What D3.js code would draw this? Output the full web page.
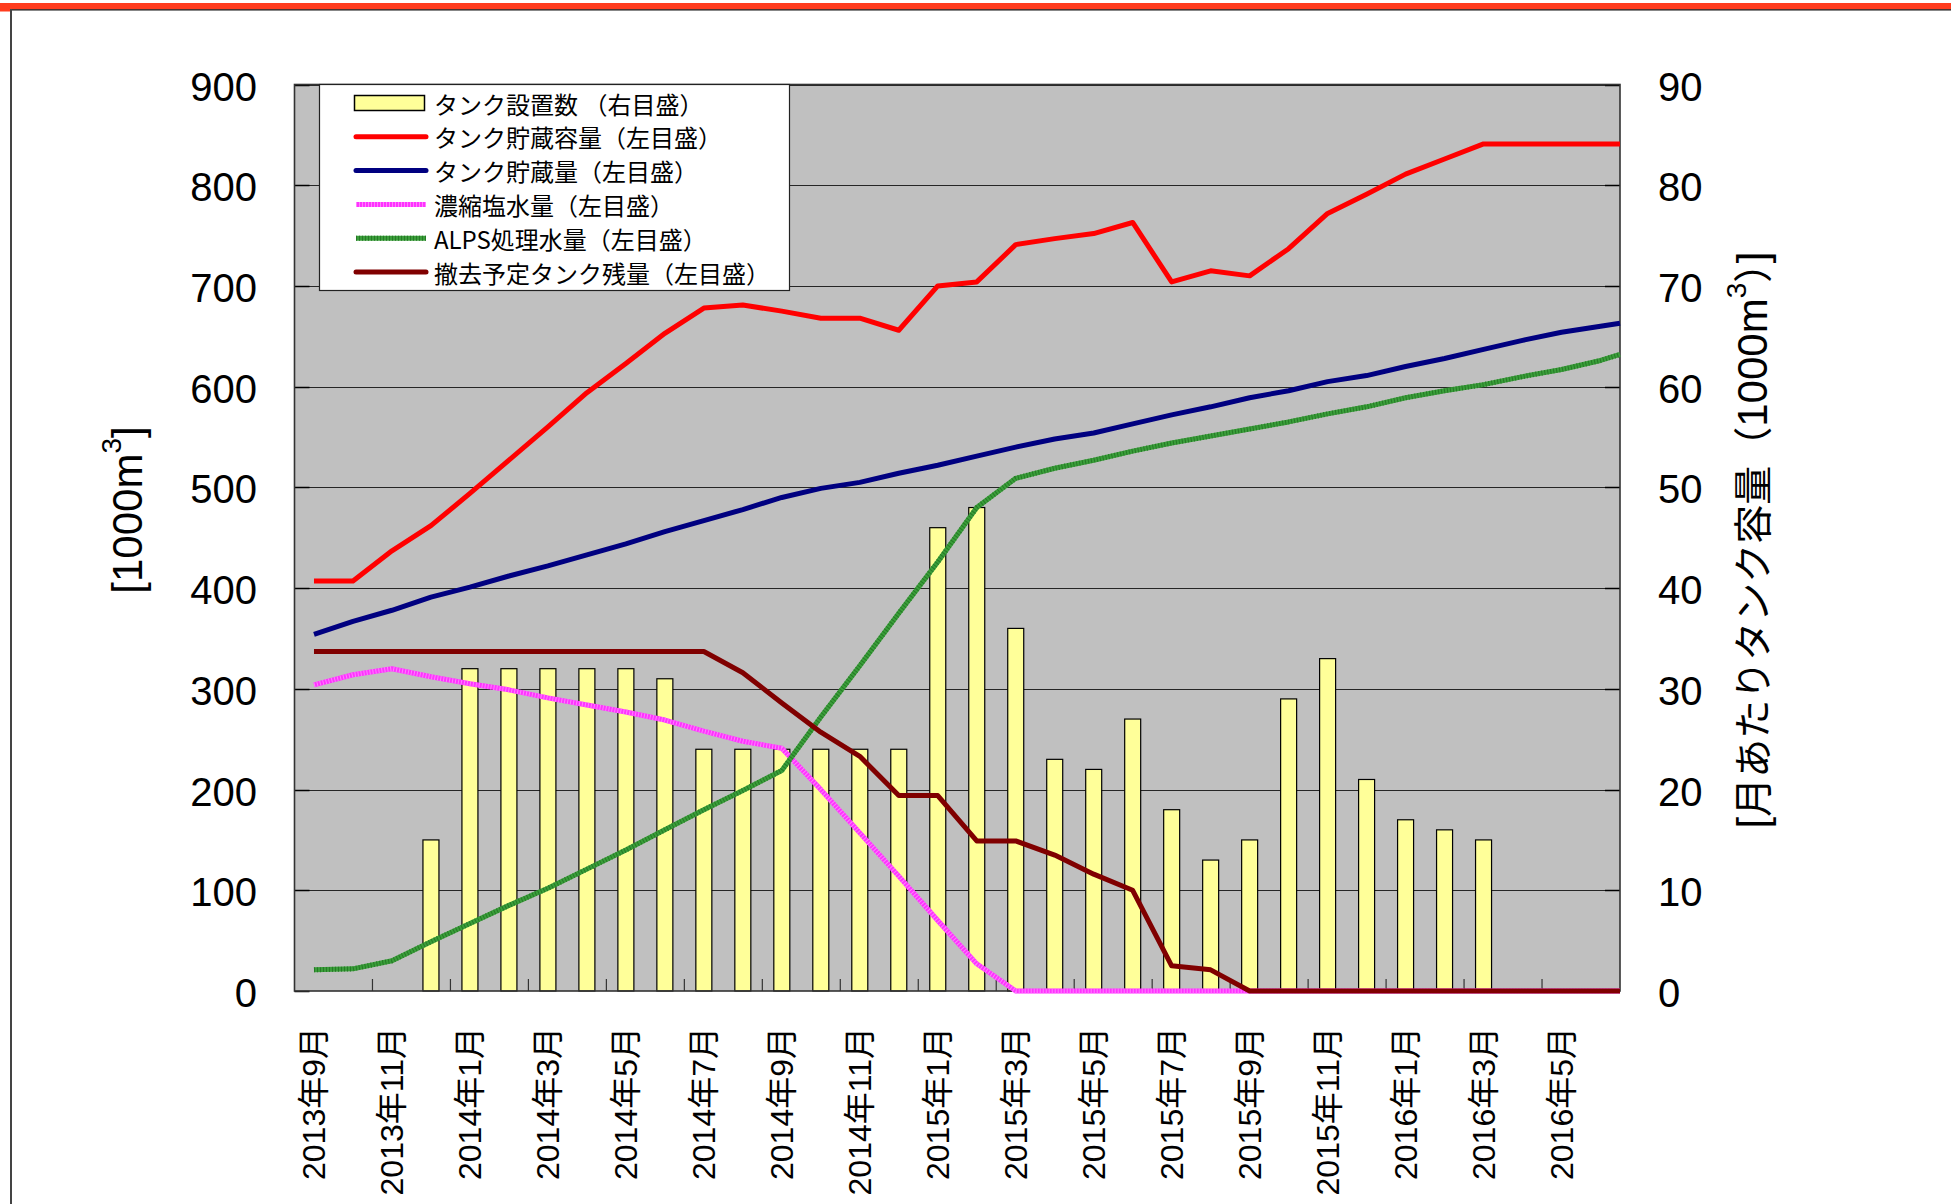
<!DOCTYPE html>
<html>
<head>
<meta charset="utf-8">
<script src="https://cdn.jsdelivr.net/npm/d3@7"></script>
<style>
  body { margin: 0; background: #ffffff; }
  svg { display: block; }
</style>
</head>
<body>
<div id="chart"></div>
<script>
// categories (one per month)
const months = [
    '2013年9月', '2013年10月', '2013年11月', '2013年12月',
    '2014年1月', '2014年2月', '2014年3月', '2014年4月', '2014年5月', '2014年6月',
    '2014年7月', '2014年8月', '2014年9月', '2014年10月', '2014年11月', '2014年12月',
    '2015年1月', '2015年2月', '2015年3月', '2015年4月', '2015年5月', '2015年6月',
    '2015年7月', '2015年8月', '2015年9月', '2015年10月', '2015年11月', '2015年12月',
    '2016年1月', '2016年2月', '2016年3月', '2016年4月', '2016年5月', '2016年6月'
];

// bars, right scale (1000 m3 per month)
const tankCount = [null, null, null, 15, 32, 32, 32, 32, 32, 31, 24, 24, 24, 24, 24, 24,
    46, 48, 36, 23, 22, 27, 18, 13, 15, 29, 33, 21, 17, 16, 15, null, null, null];

// lines, left scale (1000 m3); one value per month plus the value at the right edge
const storageCapacity = [407, 407, 437, 462, 494, 527, 560, 594, 623, 653, 678, 681, 675, 668, 668, 656,
    700, 704, 741, 747, 752, 763, 704, 715, 710, 737, 772, 791, 811, 826, 841, 841, 841, 841, 841];
const storageVolume = [354, 367, 378, 391, 401, 412, 422, 433, 444, 456, 467, 478, 490, 499, 505, 514,
    522, 531, 540, 548, 554, 563, 572, 580, 589, 596, 605, 611, 620, 628, 637, 646, 654, 660, 663];
const brineVolume = [304, 314, 320, 312, 305, 299, 291, 284, 277, 269, 258, 248, 241, 200, 157, 114,
    70, 27, 0, 0, 0, 0, 0, 0, 0, 0, 0, 0, 0, 0, 0, 0, 0, 0, 0];
const alpsVolume = [21, 22, 30, 49, 67, 85, 102, 121, 140, 160, 180, 199, 219, 272, 323, 375,
    426, 480, 509, 519, 527, 536, 544, 551, 558, 565, 573, 580, 589, 596, 602, 610, 617, 626, 632];
const removalTankVolume = [337, 337, 337, 337, 337, 337, 337, 337, 337, 337, 337, 316, 286, 257, 233, 194,
    194, 149, 149, 135, 116, 100, 25, 21, 0, 0, 0, 0, 0, 0, 0, 0, 0, 0, 0];

const leftTicks = [0, 100, 200, 300, 400, 500, 600, 700, 800, 900];
const rightTicks = [0, 10, 20, 30, 40, 50, 60, 70, 80, 90];

const legendLabels = [
    'タンク設置数 （右目盛）',
    'タンク貯蔵容量（左目盛）',
    'タンク貯蔵量（左目盛）',
    '濃縮塩水量（左目盛）',
    'ALPS処理水量（左目盛）',
    '撤去予定タンク残量（左目盛）'
];

const JP = '"Noto Sans CJK JP", sans-serif';
const SANS = '"Liberation Sans", "Noto Sans CJK JP", sans-serif';

function main() {
    const svgWidth = 1951, svgHeight = 1204;
    const plot = {left: 294.5, right: 1620, top: 84.5, bottom: 991};

    const svg = d3.select('#chart').append('svg')
        .attr('width', svgWidth)
        .attr('height', svgHeight);

    // page frame and red stripe on top
    svg.append('rect').attr('x', 0).attr('y', 3).attr('width', svgWidth).attr('height', 6.5).attr('fill', '#ff3c1e');
    svg.append('rect').attr('x', 0).attr('y', 3).attr('width', 10).attr('height', 8.5).attr('fill', '#ff3c1e');
    svg.append('line').attr('x1', 10).attr('x2', svgWidth).attr('y1', 9.8).attr('y2', 9.8)
        .attr('stroke', '#111').attr('stroke-width', 1.2);
    svg.append('line').attr('x1', 11).attr('x2', 11).attr('y1', 9).attr('y2', svgHeight)
        .attr('stroke', '#444').attr('stroke-width', 2);

    const x = d3.scaleBand().domain(months).range([plot.left, plot.right]).padding(0);
    const xc = (i) => i < months.length ? x(months[i]) + x.bandwidth() / 2 : plot.right;
    const yLeft = d3.scaleLinear().domain([0, 900]).range([plot.bottom, plot.top]);
    const yRight = d3.scaleLinear().domain([0, 90]).range([plot.bottom, plot.top]);

    // plot background and gridlines
    svg.append('rect')
        .attr('x', plot.left).attr('y', plot.top)
        .attr('width', plot.right - plot.left).attr('height', plot.bottom - plot.top)
        .attr('fill', '#c0c0c0');

    svg.append('g').selectAll('line')
        .data(leftTicks.slice(1))
        .enter().append('line')
        .attr('x1', plot.left).attr('x2', plot.right)
        .attr('y1', d => Math.round(yLeft(d)) + 0.5).attr('y2', d => Math.round(yLeft(d)) + 0.5)
        .attr('stroke', '#262626').attr('stroke-width', 1.2);

    // inside ticks on both value axes
    svg.append('g').selectAll('line')
        .data(leftTicks)
        .enter().append('line')
        .attr('x1', plot.left).attr('x2', plot.left + 15)
        .attr('y1', d => Math.round(yLeft(d)) + 0.5).attr('y2', d => Math.round(yLeft(d)) + 0.5)
        .attr('stroke', '#000').attr('stroke-width', 1.5);
    svg.append('g').selectAll('line')
        .data(rightTicks)
        .enter().append('line')
        .attr('x1', plot.right - 15).attr('x2', plot.right)
        .attr('y1', d => Math.round(yRight(d)) + 0.5).attr('y2', d => Math.round(yRight(d)) + 0.5)
        .attr('stroke', '#000').attr('stroke-width', 1.5);

    // category ticks every two months, pointing up
    svg.append('g').selectAll('line')
        .data(months.filter((d, i) => i % 2 === 0 && i > 0))
        .enter().append('line')
        .attr('x1', d => x(d)).attr('x2', d => x(d))
        .attr('y1', plot.bottom - 12).attr('y2', plot.bottom)
        .attr('stroke', '#333').attr('stroke-width', 1.2);

    // bars
    const barWidth = 16;
    svg.append('g').selectAll('rect')
        .data(months.map((m, i) => ({month: m, value: tankCount[i]})).filter(d => d.value != null))
        .enter().append('rect')
        .attr('x', d => x(d.month) + x.bandwidth() / 2 - barWidth / 2)
        .attr('y', d => yRight(d.value))
        .attr('width', barWidth)
        .attr('height', d => yRight(0) - yRight(d.value))
        .attr('fill', '#ffff99')
        .attr('stroke', '#000')
        .attr('stroke-width', 1.2);

    // plot border
    svg.append('rect')
        .attr('x', plot.left).attr('y', plot.top)
        .attr('width', plot.right - plot.left).attr('height', plot.bottom - plot.top)
        .attr('fill', 'none').attr('stroke', '#333').attr('stroke-width', 1.6);

    // lines
    const series = [
        {values: storageCapacity, color: '#ff0000'},
        {values: storageVolume, color: '#000080'},
        {values: brineVolume, color: '#ff33ff', texture: '#ff80ff'},
        {values: alpsVolume, color: '#3a9e3a', texture: '#267a26'},
        {values: removalTankVolume, color: '#800000'}
    ];

    const lineGenerator = d3.line()
        .x((d, i) => xc(i))
        .y(d => yLeft(d));

    series.forEach(s => {
        svg.append('path')
            .datum(s.values)
            .attr('d', lineGenerator)
            .attr('fill', 'none')
            .attr('stroke', s.color)
            .attr('stroke-width', 5)
            .attr('stroke-linejoin', 'round');
        if (s.texture) {
            svg.append('path')
                .datum(s.values)
                .attr('d', lineGenerator)
                .attr('fill', 'none')
                .attr('stroke', s.texture)
                .attr('stroke-width', 5)
                .attr('stroke-dasharray', '1,2');
        }
    });

    // legend
    const legend = svg.append('g');
    legend.append('rect')
        .attr('x', 319.5).attr('y', 84.5)
        .attr('width', 470).attr('height', 206)
        .attr('fill', '#ffffff').attr('stroke', '#222').attr('stroke-width', 1.2);

    const legendY = d3.scalePoint().domain(legendLabels).range([103, 272]);
    const legendSymbols = [{bar: true}].concat(series);

    legendLabels.forEach((label, i) => {
        const cy = legendY(label);
        const sym = legendSymbols[i];
        if (sym.bar) {
            legend.append('rect')
                .attr('x', 354.5).attr('y', cy - 7.5)
                .attr('width', 70).attr('height', 15)
                .attr('fill', '#ffff99').attr('stroke', '#000').attr('stroke-width', 1.5);
        } else {
            legend.append('line')
                .attr('x1', 356).attr('x2', 426).attr('y1', cy).attr('y2', cy)
                .attr('stroke', sym.color).attr('stroke-width', 5)
                .attr('stroke-linecap', sym.texture ? 'butt' : 'round');
            if (sym.texture) {
                legend.append('line')
                    .attr('x1', 356).attr('x2', 426).attr('y1', cy).attr('y2', cy)
                    .attr('stroke', sym.texture).attr('stroke-width', 5)
                    .attr('stroke-dasharray', '1,2');
            }
        }
        legend.append('text')
            .attr('x', 434).attr('y', cy)
            .attr('dominant-baseline', 'central')
            .style('font-family', JP)
            .style('font-size', '24px')
            .attr('fill', '#000')
            .text(label);
    });

    // value axis labels
    svg.append('g').selectAll('text')
        .data(leftTicks)
        .enter().append('text')
        .attr('x', 257).attr('y', d => yLeft(d) + 2)
        .attr('text-anchor', 'end')
        .attr('dominant-baseline', 'central')
        .style('font-family', SANS)
        .style('font-size', '40px')
        .text(d => d);

    svg.append('g').selectAll('text')
        .data(rightTicks)
        .enter().append('text')
        .attr('x', 1658).attr('y', d => yRight(d) + 2)
        .attr('text-anchor', 'start')
        .attr('dominant-baseline', 'central')
        .style('font-family', SANS)
        .style('font-size', '40px')
        .text(d => d);

    // category labels, every second month
    svg.append('g').selectAll('text')
        .data(months.filter((d, i) => i % 2 === 0))
        .enter().append('text')
        .attr('transform', d => `translate(${x(d) + x.bandwidth() / 2 + 11.5},1027) rotate(-90)`)
        .attr('text-anchor', 'end')
        .style('font-family', SANS)
        .style('font-size', '32px')
        .text(d => d);

    // axis titles
    const leftTitle = svg.append('text')
        .attr('transform', 'translate(142,510) rotate(-90)')
        .attr('text-anchor', 'middle')
        .style('font-family', SANS)
        .style('font-size', '42px');
    leftTitle.append('tspan').text('[1000m');
    leftTitle.append('tspan').attr('dy', -21).style('font-size', '28px').text('3');
    leftTitle.append('tspan').attr('dy', 21).text(']');

    const rightTitle = svg.append('text')
        .attr('transform', 'translate(1767,540) rotate(-90)')
        .attr('text-anchor', 'middle')
        .style('font-family', SANS)
        .style('font-size', '42px');
    rightTitle.append('tspan').text('[');
    rightTitle.append('tspan').style('font-family', JP).style('font-size', '39px').text('月あたりタンク容量（');
    rightTitle.append('tspan').text('1000m');
    rightTitle.append('tspan').attr('dy', -21).style('font-size', '28px').text('3');
    rightTitle.append('tspan').attr('dy', 21).style('font-family', JP).style('font-size', '39px').text('）');
    rightTitle.append('tspan').text(']');
}

main();
</script>
</body>
</html>
